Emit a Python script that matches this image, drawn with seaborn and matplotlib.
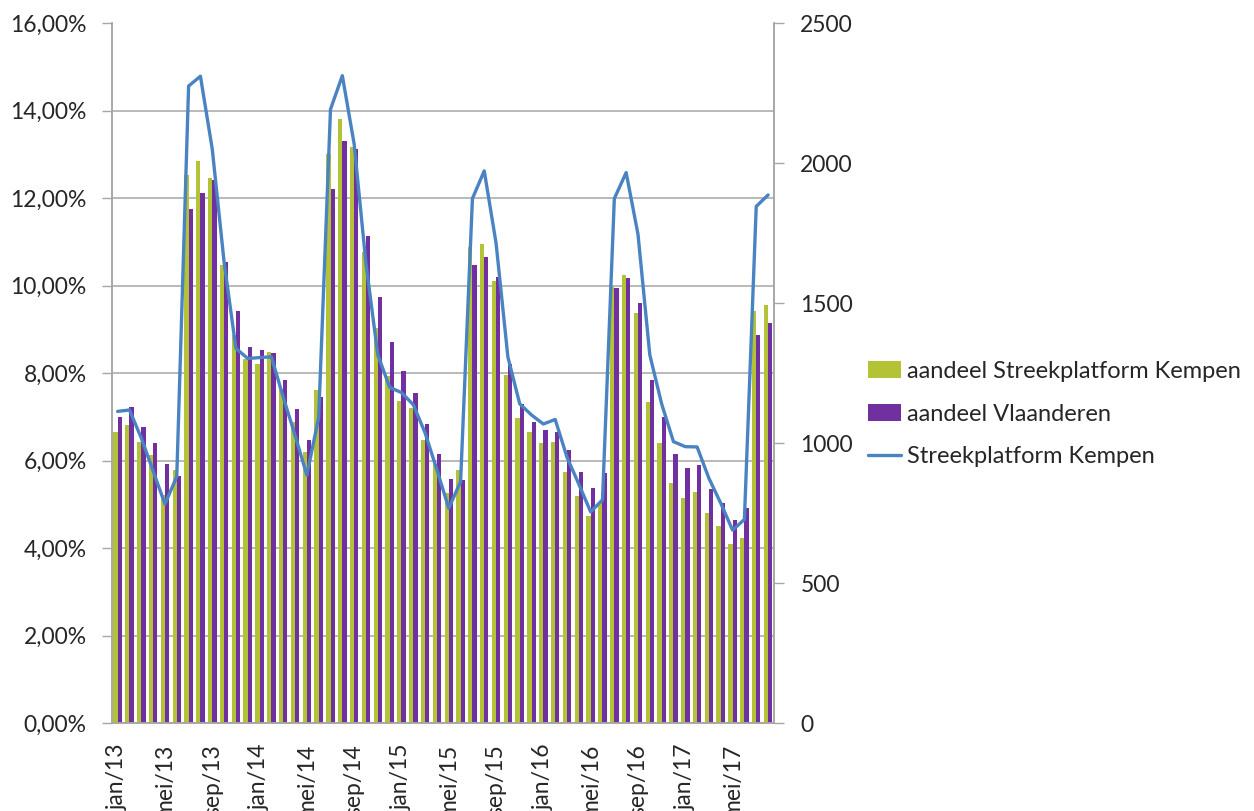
import numpy as np
import pandas as pd
import matplotlib
matplotlib.use("Agg")
import matplotlib.pyplot as plt
from matplotlib.lines import Line2D
from matplotlib.patches import Patch
from matplotlib.ticker import FuncFormatter
import seaborn as sns

# data (jan/13 .. aug/17)
maanden = ["jan", "feb", "mrt", "apr", "mei", "jun", "jul", "aug", "sep", "okt", "nov", "dec"]
jaren = ["13", "14", "15", "16", "17"]
labels = [f"{m}/{j}" for j in jaren for m in maanden][:56]

aandeel_kempen = [
    6.66, 6.81, 6.43, 6.12, 5.21, 5.78, 12.52, 12.85, 12.46, 10.47, 8.87, 8.33,
    8.20, 8.47, 7.63, 6.89, 6.20, 7.62, 13.00, 13.81, 13.16, 10.77, 9.03, 7.93,
    7.37, 7.19, 6.47, 5.93, 5.25, 5.78, 10.89, 10.96, 10.11, 7.95, 6.97, 6.66,
    6.41, 6.43, 5.74, 5.18, 4.74, 5.05, 9.97, 10.24, 9.38, 7.34, 6.41, 5.49,
    5.14, 5.29, 4.81, 4.51, 4.09, 4.22, 9.41, 9.55,
]
aandeel_vlaanderen = [
    6.99, 7.22, 6.77, 6.39, 5.92, 5.65, 11.74, 12.11, 12.42, 10.53, 9.42, 8.60,
    8.53, 8.46, 7.84, 7.17, 6.48, 7.45, 12.20, 13.30, 13.13, 11.14, 9.73, 8.70,
    8.04, 7.54, 6.83, 6.15, 5.57, 5.55, 10.46, 10.65, 10.19, 8.21, 7.30, 6.87,
    6.70, 6.66, 6.23, 5.74, 5.38, 5.71, 9.94, 10.17, 9.59, 7.85, 6.99, 6.14,
    5.83, 5.90, 5.35, 5.02, 4.63, 4.91, 8.87, 9.14,
]
aantal_kempen = [
    1113, 1118, 1018, 900, 782, 880, 2275, 2310, 2050, 1647, 1338, 1302,
    1305, 1308, 1164, 1028, 885, 1092, 2192, 2312, 2068, 1640, 1315, 1199,
    1180, 1137, 1036, 904, 767, 862, 1873, 1972, 1714, 1307, 1140, 1100,
    1068, 1084, 949, 853, 754, 797, 1873, 1966, 1746, 1315, 1140, 1005,
    987, 986, 874, 785, 689, 727, 1845, 1886,
]

reeks_kempen = "aandeel Streekplatform Kempen"
reeks_vl = "aandeel Vlaanderen"
reeks_lijn = "Streekplatform Kempen"

GREEN = "#B3C335"
PURPLE = "#7030A0"
BLUE = "#4A83C2"
GRID = "#A6A6A6"

df = pd.DataFrame({
    "maand": labels * 2,
    "aandeel": aandeel_kempen + aandeel_vlaanderen,
    "reeks": [reeks_kempen] * len(labels) + [reeks_vl] * len(labels),
})

sns.set_style("white")
plt.rcParams["font.family"] = ["Lato", "DejaVu Sans"]

fig = plt.figure(figsize=(12.54, 8.11), dpi=100)
ax = fig.add_axes([0.0891, 0.1085, 0.6172 - 0.0891, 0.9716 - 0.1085])

sns.barplot(data=df, x="maand", y="aandeel", hue="reeks", order=labels,
            palette=[GREEN, PURPLE], width=0.72, saturation=1, legend=False,
            linewidth=0, ax=ax)

ax2 = ax.twinx()
sns.lineplot(x=np.arange(len(labels)), y=aantal_kempen, color=BLUE, linewidth=2.4,
             ax=ax2, legend=False)

# left axis
ax.set_ylim(0, 16)
ax.set_yticks(np.arange(0, 17, 2))
ax.yaxis.set_major_formatter(FuncFormatter(lambda v, p: f"{v:.2f}%".replace(".", ",")))
ax.grid(axis="y", color=GRID, linewidth=1.1)
ax.get_ygridlines()[-1].set_visible(False)
ax.set_axisbelow(True)

# right axis
ax2.set_ylim(0, 2500)
ax2.set_yticks(np.arange(0, 2501, 500))
ax2.grid(False)

# x axis: tick marks on boundaries every 4 months, labels centred
ax.set_xlim(-0.5, len(labels) - 0.5)
ax.set_xticks(np.arange(-0.5, len(labels), 4))
ax.set_xticklabels([])
ax.set_xticks(np.arange(0, len(labels), 4), minor=True)
ax.set_xticklabels(labels[::4], minor=True, rotation=90, va="top", ha="center")
ax.tick_params(axis="x", which="major", length=7, width=1, color=GRID, direction="out")
ax.tick_params(axis="x", which="minor", length=0, pad=15, labelsize=16.5)
ax.set_xlabel("")
ax.set_ylabel("")
ax2.set_ylabel("")

ax.tick_params(axis="y", length=7, width=1, color=GRID, pad=11, labelsize=16.5, left=True)
ax2.tick_params(axis="y", length=7, width=1, color=GRID, pad=12, labelsize=16.5, right=True)

for a in (ax, ax2):
    for side in ("left", "right", "bottom"):
        a.spines[side].set_visible(True)
        a.spines[side].set_color(GRID)
        a.spines[side].set_linewidth(1.1)
    a.spines["top"].set_visible(False)

handles = [
    Patch(facecolor=GREEN, edgecolor="none"),
    Patch(facecolor=PURPLE, edgecolor="none"),
    Line2D([0], [0], color=BLUE, linewidth=2.4),
]
fig.legend(handles, [reeks_kempen, reeks_vl, reeks_lijn], loc="upper left",
           bbox_to_anchor=(0.692, 0.555), frameon=False, fontsize=17,
           handlelength=1.4, handleheight=0.7, handletextpad=0.25,
           labelspacing=0.92, borderpad=0, borderaxespad=0)

fig.savefig("out.png", dpi=100)
